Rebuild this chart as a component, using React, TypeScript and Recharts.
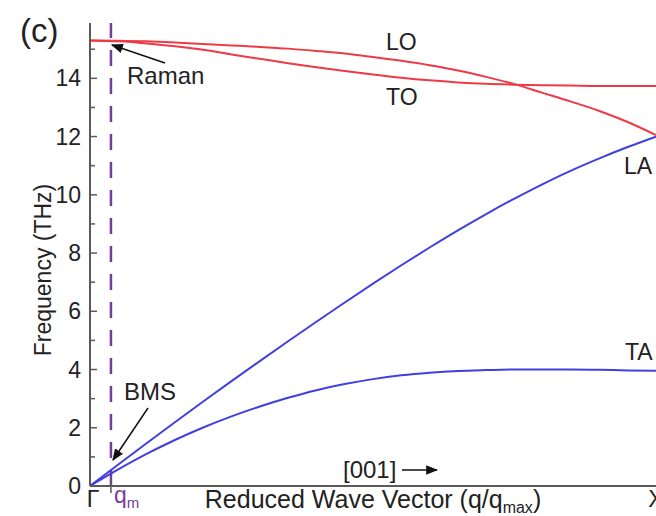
import { LineChart, Line, XAxis, YAxis, ReferenceLine } from "recharts";

// reduced wave vector q/q_max along [001]
const q = [0, 0.05, 0.1, 0.15, 0.2, 0.25, 0.3, 0.35, 0.4, 0.45, 0.5, 0.55, 0.6, 0.65, 0.7, 0.75, 0.8, 0.85, 0.9, 0.95, 1.0];

// phonon branches (THz)
const laBranch = [0, 0.74, 1.47, 2.19, 2.9, 3.6, 4.29, 4.97, 5.64, 6.3, 6.95, 7.58, 8.19, 8.78, 9.34, 9.87, 10.37, 10.83, 11.25, 11.64, 12.0];
const taBranch = [0, 0.57, 1.1, 1.58, 2.01, 2.39, 2.73, 3.03, 3.29, 3.5, 3.67, 3.8, 3.89, 3.95, 3.98, 4.0, 4.0, 4.0, 3.99, 3.97, 3.96];
const loBranch = [15.3, 15.29, 15.27, 15.23, 15.18, 15.13, 15.08, 15.02, 14.94, 14.85, 14.73, 14.6, 14.45, 14.27, 14.05, 13.8, 13.5, 13.2, 12.88, 12.5, 12.05];
const toBranch = [15.3, 15.27, 15.2, 15.1, 14.98, 14.82, 14.67, 14.52, 14.38, 14.25, 14.13, 14.02, 13.93, 13.86, 13.81, 13.78, 13.76, 13.75, 13.74, 13.74, 13.74];

const freqTicks = [0, 1, 2, 3, 4, 5, 6, 7, 8, 9, 10, 11, 12, 13, 14, 15];
const QM = 0.037; // q_m marker
const qTicks = [0, QM, 1];

const data = q.map((v, i) => ({
  q: v,
  LA: laBranch[i],
  TA: taBranch[i],
  LO: loBranch[i],
  TO: toBranch[i],
}));

const FONT = "'Liberation Sans', Arial, Helvetica, sans-serif";
const AXIS = "#5a5a5a";
const TEXT = "#222";
const RED = "#ee3a46";
const BLUE = "#4040e2";
const PURPLE = "#7a3c9c";

const PLOT_LEFT = 90;
const PLOT_BOTTOM = 486;

function FreqTick({ y, payload }: any) {
  const major = payload.value % 2 === 0;
  return (
    <g>
      <line x1={PLOT_LEFT} x2={PLOT_LEFT + (major ? 7 : 5)} y1={y} y2={y} stroke={AXIS} strokeWidth={1.5} />
      {major && (
        <text x={PLOT_LEFT - 9} y={y + 8} textAnchor="end" fontSize={23} fontFamily={FONT} fill={TEXT}>
          {payload.value}
        </text>
      )}
    </g>
  );
}

function WaveTick({ x, payload }: any) {
  const v = payload.value;
  if (v === 0) {
    return (
      <text x={x + 3} y={PLOT_BOTTOM + 21} textAnchor="middle" fontSize={23} fontFamily={FONT} fill={TEXT}>
        Γ
      </text>
    );
  }
  if (v === QM) {
    return (
      <g>
        <line x1={x} x2={x} y1={PLOT_BOTTOM - 7} y2={PLOT_BOTTOM + 7} stroke={AXIS} strokeWidth={1.5} />
        <text x={x + 3} y={PLOT_BOTTOM + 17} fontSize={23} fontFamily={FONT} fill={PURPLE}>
          q
          <tspan dy={5} fontSize={15}>m</tspan>
        </text>
      </g>
    );
  }
  return (
    <text x={x} y={PLOT_BOTTOM + 21} textAnchor="middle" fontSize={23} fontFamily={FONT} fill={TEXT}>
      X
    </text>
  );
}

export default function App() {
  return (
    <div style={{ position: "absolute", left: 0, top: 0, width: 656, height: 516, overflow: "hidden", background: "#fff" }}>
      <LineChart width={680} height={516} data={data} margin={{ top: 23, right: 24, bottom: 0, left: 0 }}>
        <XAxis
          dataKey="q"
          type="number"
          domain={[0, 1]}
          ticks={qTicks}
          interval={0}
          height={30}
          axisLine={{ stroke: AXIS, strokeWidth: 2 }}
          tickLine={false}
          tick={<WaveTick />}
        />
        <XAxis
          xAxisId="top"
          dataKey="q"
          type="number"
          domain={[0, 1]}
          orientation="top"
          height={0}
          tick={false}
          tickLine={false}
          axisLine={{ stroke: AXIS, strokeWidth: 2 }}
        />
        <YAxis
          type="number"
          domain={[0, 15.9]}
          ticks={freqTicks}
          interval={0}
          width={90}
          axisLine={{ stroke: AXIS, strokeWidth: 2 }}
          tickLine={false}
          tick={<FreqTick />}
        />
        <ReferenceLine x={QM} stroke={PURPLE} strokeWidth={2.5} strokeDasharray="16 12" />
        <Line type="monotone" dataKey="LO" stroke={RED} strokeWidth={2} dot={false} isAnimationActive={false} />
        <Line type="monotone" dataKey="TO" stroke={RED} strokeWidth={2} dot={false} isAnimationActive={false} />
        <Line type="monotone" dataKey="LA" stroke={BLUE} strokeWidth={2} dot={false} isAnimationActive={false} />
        <Line type="monotone" dataKey="TA" stroke={BLUE} strokeWidth={2} dot={false} isAnimationActive={false} />
      </LineChart>

      {/* labels and pointer arrows */}
      <svg width={656} height={516} style={{ position: "absolute", left: 0, top: 0, pointerEvents: "none" }}>
        <defs>
          <marker id="head" viewBox="0 0 10 10" refX="9" refY="5" markerWidth="8" markerHeight="8" orient="auto">
            <path d="M0,1 L10,5 L0,9 z" fill="#111" />
          </marker>
        </defs>
        <g fontFamily={FONT} fill={TEXT}>
          <text x={20} y={42} fontSize={33}>(c)</text>
          <text x={127} y={84} fontSize={24}>Raman</text>
          <text x={386} y={50} fontSize={23}>LO</text>
          <text x={386} y={105} fontSize={23}>TO</text>
          <text x={624} y={174} fontSize={23}>LA</text>
          <text x={625} y={360} fontSize={23}>TA</text>
          <text x={124} y={400} fontSize={24}>BMS</text>
          <text x={343} y={478} fontSize={24}>[001]</text>
          <text x={373} y={508} fontSize={25} textAnchor="middle">
            Reduced Wave Vector (q/q
            <tspan dy={5} fontSize={16}>max</tspan>
            <tspan dy={-5}>)</tspan>
          </text>
          <text x={0} y={0} fontSize={23} textAnchor="middle" transform="translate(51 270) rotate(-90)">
            Frequency (THz)
          </text>
        </g>
        <line x1={165} y1={63} x2={112} y2={45} stroke="#111" strokeWidth={1.5} markerEnd="url(#head)" />
        <line x1={148} y1={408} x2={113} y2={460} stroke="#111" strokeWidth={1.5} markerEnd="url(#head)" />
        <line x1={402} y1={470} x2={437} y2={470} stroke="#111" strokeWidth={1.5} markerEnd="url(#head)" />
      </svg>
    </div>
  );
}
